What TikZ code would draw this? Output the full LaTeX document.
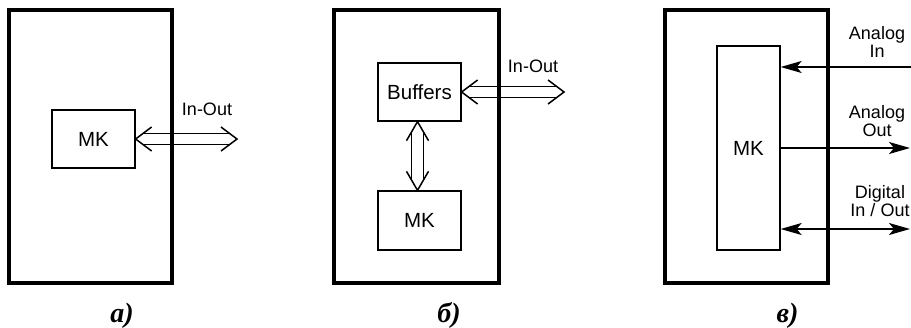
\documentclass[tikz,border=0pt]{standalone}
\usepackage{fontspec}
\setmainfont{Liberation Sans}
\newfontfamily\capfont{Liberation Serif}
\usetikzlibrary{calc,arrows.meta}
\tikzset{
  outer/.style={draw, line width=3.4pt, inner sep=0pt},
  box/.style={draw, line width=1.3pt, inner sep=0pt, font=\fontsize{20.5}{22}\selectfont},
  busline/.style={line width=1.5pt, line join=miter},
  sig/.style={line width=1.6pt, arrows={-Stealth[length=21pt,width=12pt,inset=5pt]}},
  sigb/.style={line width=1.6pt, arrows={Stealth[length=21pt,width=12pt,inset=5pt]-Stealth[length=21pt,width=12pt,inset=5pt]}},
  lbl/.style={font=\fontsize{18}{18}\selectfont, inner sep=0pt, align=center},
  caplbl/.style={font=\capfont\bfseries\itshape\fontsize{28}{28}\selectfont, inner sep=0pt, anchor=base}
}
\newcommand\hbus[2]{%
  \draw[busline] ($(#1)+(16,-12)$) -- (#1) -- ($(#1)+(16,12)$);
  \draw[busline] ($(#2)+(-16,-12)$) -- (#2) -- ($(#2)+(-16,12)$);
  \draw[busline] ($(#1)+(7.3,-5.5)$) -- ($(#2)+(-7.3,-5.5)$);
  \draw[busline] ($(#1)+(7.3,5.5)$) -- ($(#2)+(-7.3,5.5)$);
}
\newcommand\vbus[2]{%
  \draw[busline] ($(#1)+(-11,19)$) -- (#1) -- ($(#1)+(11,19)$);
  \draw[busline] ($(#2)+(-11,-19)$) -- (#2) -- ($(#2)+(11,-19)$);
  \draw[busline] ($(#1)+(-6,10.4)$) -- ($(#2)+(-6,-10.4)$);
  \draw[busline] ($(#1)+(6,10.4)$) -- ($(#2)+(6,-10.4)$);
}
\begin{document}
\begin{tikzpicture}[x=1pt,y=-1pt]
\useasboundingbox (0,0) rectangle (911,327);
% ---------- a)
\node[outer, minimum width=163pt, minimum height=273pt] (oa) at (90.5,146.5) {};
\node[box, minimum width=83pt, minimum height=58pt] (mka) at (93.5,139) {MK};
\coordinate (ea) at (237,139);
\hbus{mka.east}{ea}
\node[lbl] (ioa) at (207,109) {In-Out};
\node[caplbl] (capa) at (122,322) {а)};
% ---------- б)
\node[outer, minimum width=165pt, minimum height=273pt] (ob) at (416.5,146.5) {};
\node[box, minimum width=83pt, minimum height=58pt] (bufb) at (419.5,92) {Buffers};
\node[box, minimum width=83pt, minimum height=59pt] (mkb) at (419.5,220.5) {MK};
\coordinate (eb) at (564,92);
\hbus{bufb.east}{eb}
\vbus{[xshift=-2pt]bufb.south}{[xshift=-2pt]mkb.north}
\node[lbl] (iob) at (533,66) {In-Out};
\node[caplbl] (capb) at (449,322) {б)};
% ---------- в)
\node[outer, minimum width=163pt, minimum height=273pt] (oc) at (746.5,146.5) {};
\node[box, minimum width=63pt, minimum height=204pt] (mkc) at (748.5,148) {MK};
\coordinate (ai) at (911,67);
\coordinate (ao) at (910,148);
\coordinate (di) at (910,229);
\draw[sig] (ai) -- (mkc.east |- ai);
\draw[sig] (mkc.east) -- (ao);
\draw[sigb] (mkc.east |- di) -- (di);
\node[lbl] (lai) at (877,42) {Analog\\In};
\node[lbl] (lao) at (877,121) {Analog\\Out};
\node[lbl] (ldi) at (880,201) {Digital\\In / Out};
\node[caplbl] (capc) at (787.5,322) {в)};
\end{tikzpicture}
\end{document}
